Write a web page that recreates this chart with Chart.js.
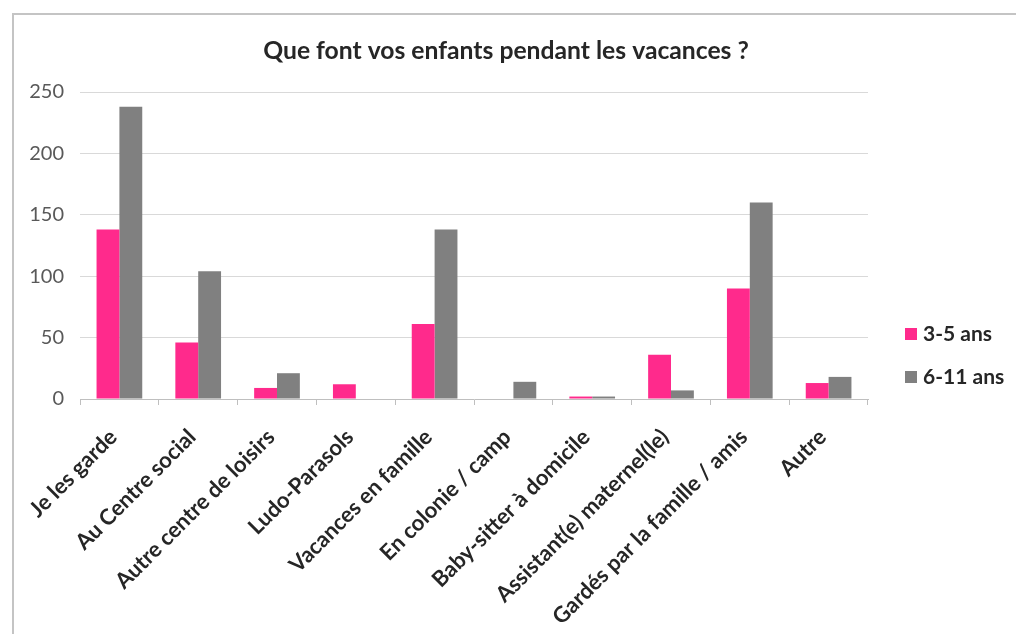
<!DOCTYPE html>
<html>
<head>
<meta charset="utf-8">
<script src="https://cdn.jsdelivr.net/npm/chart.js@4.4.1/dist/chart.umd.min.js"></script>
<style>
  html, body { margin: 0; padding: 0; background: #fff; }
  #wrap { position: relative; width: 1016px; height: 634px; overflow: hidden; }
  #frame { position: absolute; left: 12px; top: 13px; width: 1100px; height: 700px;
           border-left: 2px solid #c4c4c4; border-top: 2px solid #c4c4c4; box-sizing: border-box; }
  canvas { position: absolute; left: 0; top: 0; }
</style>
</head>
<body>
<div id="wrap">
  <div id="frame"></div>
  <canvas id="c" width="1016" height="634"></canvas>
</div>
<script>
const titleText = "Que font vos enfants pendant les vacances ?";
const categories = [
  "Je les garde",
  "Au Centre social",
  "Autre centre de loisirs",
  "Ludo-Parasols",
  "Vacances en famille",
  "En colonie / camp",
  "Baby-sitter à domicile",
  "Assistant(e) maternel(le)",
  "Gardés par la famille / amis",
  "Autre"
];
const seriesNames = ["3-5 ans", "6-11 ans"];
const values3to5 = [138, 46, 9, 12, 61, 0, 2, 36, 90, 13];
const values6to11 = [238, 104, 21, 0, 138, 14, 2, 7, 160, 18];
const yTicks = [0, 50, 100, 150, 200, 250];

const FONT = "Lato, 'Open Sans', sans-serif";

const decorPlugin = {
  id: 'decor',
  afterDraw(chart) {
    const ctx = chart.ctx;
    ctx.save();
    // title
    ctx.font = "bold 24.7px " + FONT;
    ctx.fillStyle = '#262626';
    ctx.textAlign = 'center';
    ctx.textBaseline = 'middle';
    ctx.fillText(titleText, 506, 51);
    // legend
    const x0 = 905, ys = [334, 377];
    ctx.font = "bold 21px " + FONT;
    ctx.textAlign = 'left';
    chart.data.datasets.forEach((ds, i) => {
      ctx.fillStyle = ds.backgroundColor;
      ctx.fillRect(x0, ys[i] - 6, 12, 12);
      ctx.fillStyle = '#262626';
      ctx.fillText(ds.label, x0 + 18, ys[i]);
    });
    ctx.restore();
  }
};

new Chart(document.getElementById('c'), {
  type: 'bar',
  data: {
    labels: categories,
    datasets: [
      { label: seriesNames[0], data: values3to5, backgroundColor: '#FF2A8C', categoryPercentage: 0.58, barPercentage: 1.0 },
      { label: seriesNames[1], data: values6to11, backgroundColor: '#808080', categoryPercentage: 0.58, barPercentage: 1.0 }
    ]
  },
  options: {
    responsive: false,
    animation: false,
    layout: { padding: { left: 20, right: 148, top: 92, bottom: 0 } },
    plugins: {
      legend: { display: false },
      tooltip: { enabled: false },
      title: { display: false }
    },
    scales: {
      x: {
        grid: { display: true, drawOnChartArea: false, drawTicks: true, tickLength: 6, color: '#bfbfbf', offset: true },
        border: { display: true, color: '#bfbfbf', width: 1 },
        ticks: {
          autoSkip: false, minRotation: 45, maxRotation: 45, padding: 19, labelOffset: -6,
          color: '#262626',
          font: { family: FONT, size: 22, weight: 'bold' }
        },
        afterFit(scale) { scale.height = 235; }
      },
      y: {
        min: 0, max: 250,
        afterBuildTicks(scale) { scale.ticks = yTicks.map(v => ({ value: v })); },
        grid: { color: (c) => c.tick && c.tick.value === 0 ? 'rgba(0,0,0,0)' : '#d9d9d9', drawTicks: false },
        border: { display: false },
        ticks: {
          padding: 16,
          color: '#595959',
          font: { family: FONT, size: 20 }
        },
        afterFit(scale) { scale.width = 60; }
      }
    }
  },
  plugins: [decorPlugin]
});
</script>
</body>
</html>
